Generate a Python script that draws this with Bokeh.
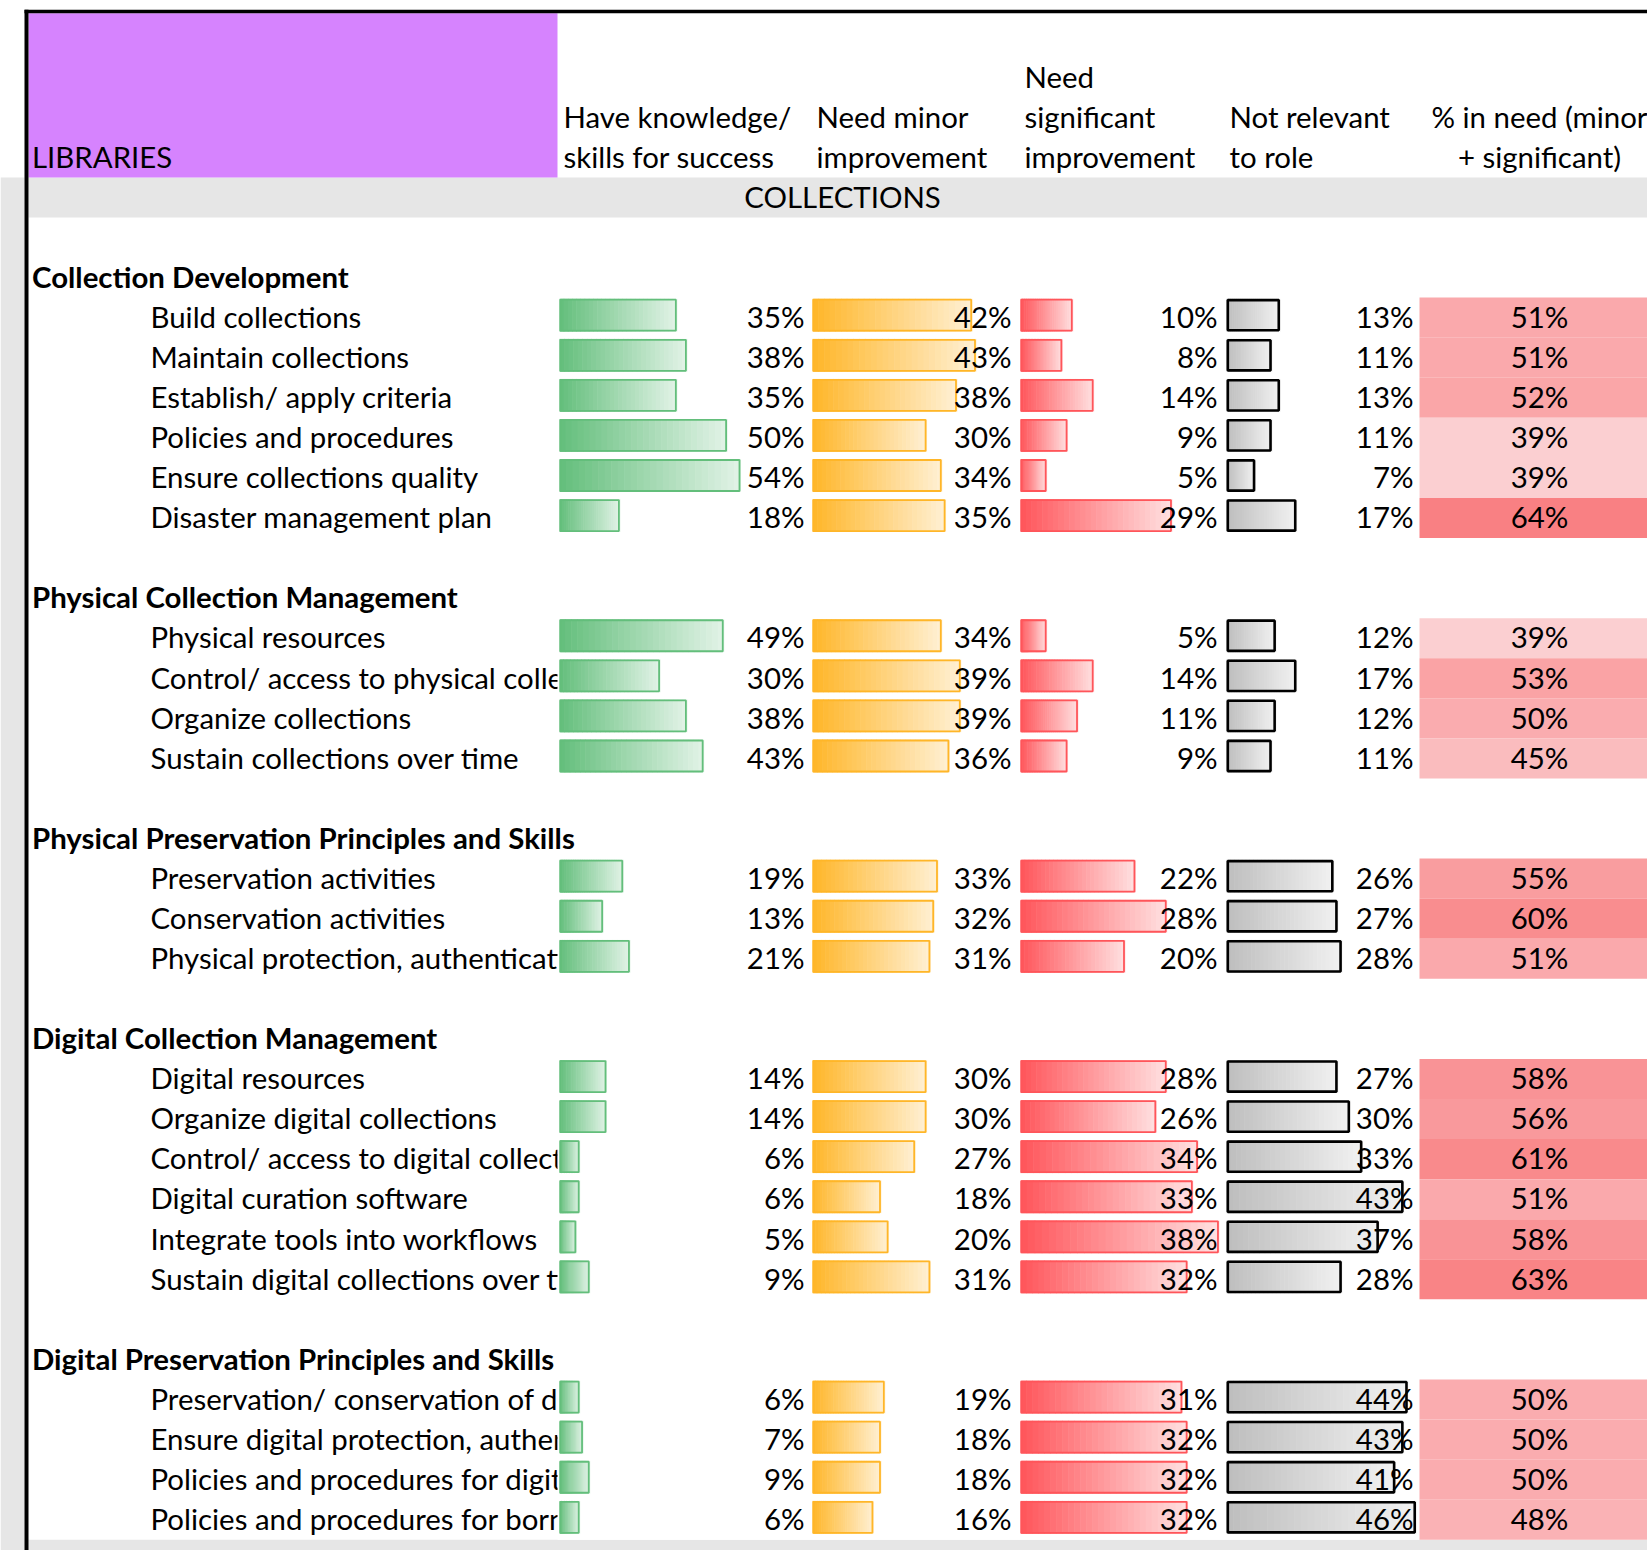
from bokeh.plotting import figure
from bokeh.models import Range1d
from bokeh.core.properties import value
from bokeh.embed import file_html
from bokeh.resources import INLINE

# ---------------- data ----------------
section_title = "COLLECTIONS"
corner_label = "LIBRARIES"
column_headers = [
    ["Have knowledge/", "skills for success"],
    ["Need minor", "improvement"],
    ["Need", "significant", "improvement"],
    ["Not relevant", "to role"],
    ["% in need (minor", "+ significant)"],
]
group_names = [
    "Collection Development",
    "Physical Collection Management",
    "Physical Preservation Principles and Skills",
    "Digital Collection Management",
    "Digital Preservation Principles and Skills",
]
group_sizes = [6, 4, 3, 6, 4]
item_labels = [
    "Build collections",
    "Maintain collections",
    "Establish/ apply criteria",
    "Policies and procedures",
    "Ensure collections quality",
    "Disaster management plan",
    "Physical resources",
    "Control/ access to physical collections",
    "Organize collections",
    "Sustain collections over time",
    "Preservation activities",
    "Conservation activities",
    "Physical protection, authentication",
    "Digital resources",
    "Organize digital collections",
    "Control/ access to digital collections",
    "Digital curation software",
    "Integrate tools into workflows",
    "Sustain digital collections over time",
    "Preservation/ conservation of digital collections",
    "Ensure digital protection, authenticity",
    "Policies and procedures for digital collections",
    "Policies and procedures for born-digital",
]
have_pct = [35, 38, 35, 50, 54, 18, 49, 30, 38, 43, 19, 13, 21, 14, 14, 6, 6, 5, 9, 6, 7, 9, 6]
minor_pct = [42, 43, 38, 30, 34, 35, 34, 39, 39, 36, 33, 32, 31, 30, 30, 27, 18, 20, 31, 19, 18, 18, 16]
significant_pct = [10, 8, 14, 9, 5, 29, 5, 14, 11, 9, 22, 28, 20, 28, 26, 34, 33, 38, 32, 31, 32, 32, 32]
not_relevant_pct = [13, 11, 13, 11, 7, 17, 12, 17, 12, 11, 26, 27, 28, 27, 30, 33, 43, 37, 28, 44, 43, 41, 46]
in_need_pct = [51, 51, 52, 39, 39, 64, 39, 53, 50, 45, 55, 60, 51, 58, 56, 61, 51, 58, 63, 50, 50, 50, 48]

# ---------------- layout (page pixels) ----------------
PAGE_W, PAGE_H = 1647, 1550
FONT = value("Lato")
FS = value("29.4px")
ROW_H = 40.07
ROW0 = 176.9
TXT_DY = 18.8


def row_top(k):
    return ROW0 + ROW_H * k


# row indices
header_rows, item_rows = [], []
k = 1
for n in group_sizes:
    header_rows.append(k + 1)
    item_rows.extend(range(k + 2, k + 2 + n))
    k = k + 2 + n

p = figure(width=PAGE_W, height=PAGE_H,
           x_range=Range1d(0, PAGE_W),
           y_range=Range1d(PAGE_H, 0),
           output_backend="svg", toolbar_location=None, min_border=0)
p.xaxis.visible = False
p.yaxis.visible = False
p.xgrid.visible = False
p.ygrid.visible = False
p.outline_line_color = None
p.background_fill_color = "white"
p.border_fill_color = "white"

GRAY = "#E6E6E6"
# gray surroundings
p.quad(left=[0], right=[24], top=[ROW0], bottom=[PAGE_H], fill_color=GRAY, line_color=None)
p.quad(left=[24], right=[PAGE_W], top=[row_top(34)], bottom=[PAGE_H], fill_color=GRAY, line_color=None)
# section band
p.quad(left=[28], right=[PAGE_W], top=[row_top(0)], bottom=[row_top(1)], fill_color=GRAY, line_color=None)
# purple corner
p.quad(left=[28], right=[557], top=[12.7], bottom=[ROW0], fill_color="#D683FE", line_color=None)
# black frame
p.segment(x0=[26], y0=[9.3], x1=[26], y1=[PAGE_H], line_color="black", line_width=4)
p.segment(x0=[24], y0=[11], x1=[PAGE_W], y1=[11], line_color="black", line_width=3.5)

# header texts
HDR_Y = 156.3
p.text(x=[31.5], y=[HDR_Y], text=[corner_label], text_font=FONT, text_font_size=FS,
       text_align="left", text_baseline="middle", text_color="black")
hdr_x = [563, 816, 1024, 1229, 1539]
hdr_align = ["left", "left", "left", "left", "center"]
for hx, ha, lines in zip(hdr_x, hdr_align, column_headers):
    n = len(lines)
    ys = [HDR_Y - 40 * (n - 1 - i) for i in range(n)]
    p.text(x=[hx] * n, y=ys, text=lines, text_font=FONT, text_font_size=FS,
           text_align=ha, text_baseline="middle", text_color="black")
p.text(x=[842], y=[row_top(0) + TXT_DY], text=[section_title], text_font=FONT, text_font_size=FS,
       text_align="center", text_baseline="middle", text_color="black")

# group headers
p.text(x=[31.5] * len(group_names), y=[row_top(r) + TXT_DY for r in header_rows], text=group_names,
       text_font=FONT, text_font_size=FS, text_font_style="bold",
       text_align="left", text_baseline="middle", text_color="black")
# item labels
p.text(x=[150] * len(item_labels), y=[row_top(r) + TXT_DY for r in item_rows], text=item_labels,
       text_font=FONT, text_font_size=FS, text_align="left", text_baseline="middle", text_color="black")
# label clipping at the column boundary (next cell is non-empty)
p.quad(left=[557] * len(item_rows), right=[1419] * len(item_rows),
       top=[row_top(r) for r in item_rows], bottom=[row_top(r) + ROW_H for r in item_rows],
       fill_color="white", line_color=None)


def mix(c1, c2, t):
    return "#%02x%02x%02x" % tuple(int(round(a + (b - a) * t)) for a, b in zip(c1, c2))


bar_specs = [
    (have_pct, 559, 3.35, (99, 190, 123), (226, 243, 231), "#63BE7B", 1.8, 804),
    (minor_pct, 812, 3.80, (255, 182, 40), (255, 240, 212), "#FFB628", 1.8, 1011),
    (significant_pct, 1020, 5.22, (255, 85, 90), (255, 224, 225), "#FF555A", 1.8, 1217),
    (not_relevant_pct, 1226, 4.12, (189, 189, 189), (242, 242, 242), "black", 2.6, 1413),
]
NSL = 28
for vals, x0, scale, c0, c1, border, bw, tx in bar_specs:
    L, R, T, B, C = [], [], [], [], []
    for v, r in zip(vals, item_rows):
        length = v * scale
        top = row_top(r) + 1.2
        bot = row_top(r) + 34
        for i in range(NSL):
            L.append(x0 + length * i / NSL)
            R.append(x0 + length * (i + 1) / NSL + 0.6)
            T.append(top)
            B.append(bot)
            C.append(mix(c0, c1, (i + 0.5) / NSL))
    p.quad(left=L, right=R, top=T, bottom=B, fill_color=C, line_color=None)
    p.quad(left=[x0 + bw / 2] * len(vals),
           right=[x0 + v * scale - bw / 2 for v in vals],
           top=[row_top(r) + 1.2 + bw / 2 for r in item_rows],
           bottom=[row_top(r) + 34 - bw / 2 for r in item_rows],
           fill_color=None, line_color=border, line_width=bw)
    p.text(x=[tx] * len(vals), y=[row_top(r) + TXT_DY for r in item_rows],
           text=["%d%%" % v for v in vals], text_font=FONT, text_font_size=FS,
           text_align="right", text_baseline="middle", text_color="black")

# "% in need" colour-scaled cells
need_colors = [mix((252, 252, 255), (248, 105, 107), min(1, max(0, (v - 24.5) / 47.0))) for v in in_need_pct]
p.quad(left=[1419] * len(item_rows), right=[PAGE_W] * len(item_rows),
       top=[row_top(r) for r in item_rows], bottom=[row_top(r) + ROW_H for r in item_rows],
       fill_color=need_colors, line_color=None)
p.text(x=[1539] * len(item_rows), y=[row_top(r) + TXT_DY for r in item_rows],
       text=["%d%%" % v for v in in_need_pct], text_font=FONT, text_font_size=FS,
       text_align="center", text_baseline="middle", text_color="black")

open("out.html", "w").write(file_html(p, INLINE))
